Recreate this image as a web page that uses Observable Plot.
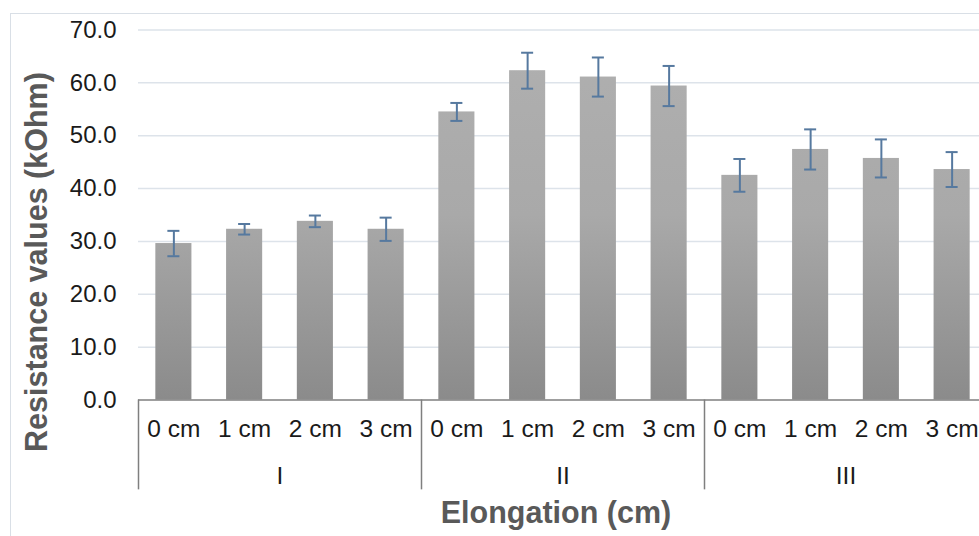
<!DOCTYPE html>
<html><head><meta charset="utf-8">
<script src="https://cdn.jsdelivr.net/npm/d3@7"></script>
<script src="https://cdn.jsdelivr.net/npm/@observablehq/plot@0.6"></script>
<style>
body{margin:0;background:#fff;overflow:hidden}
#wrap{position:relative;width:979px;height:536px;overflow:hidden}
#border{position:absolute;left:10px;top:13px;width:1000px;height:600px;border-left:1.5px solid #d9dfe6;border-top:1.5px solid #d9dfe6}
#chart{position:absolute;left:0;top:0}
</style></head><body>
<div id="wrap"><div id="border"></div><div id="chart"></div></div>
<script>
const groups = ["I", "II", "III"];
const elongations = ["0 cm", "1 cm", "2 cm", "3 cm"];
const meansI = [29.6, 32.3, 33.8, 32.3];
const errI = [2.4, 1.0, 1.1, 2.2];
const meansII = [54.5, 62.3, 61.1, 59.4];
const errII = [1.7, 3.4, 3.7, 3.8];
const meansIII = [42.5, 47.4, 45.7, 43.6];
const errIII = [3.1, 3.8, 3.6, 3.3];
const yTicks = [0, 10, 20, 30, 40, 50, 60, 70];

const meanSets = [meansI, meansII, meansIII];
const errSets = [errI, errII, errIII];
const rows = [];
groups.forEach((g, gi) => elongations.forEach((e, ei) => {
  rows.push({group: g, elong: e, i: gi * elongations.length + ei,
    mean: meanSets[gi][ei], err: errSets[gi][ei]});
}));
const groupRows = groups.map((g, gi) => ({group: g, c: gi * 4 + 2}));
const separators = groups.map((g, gi) => gi * 4).concat([groups.length * 4]);

const font = "'Liberation Sans', Arial, sans-serif";
const errColor = "#56799f";
const lineColor = "#7f7f7f";

const chart = Plot.plot({
  width: 979,
  height: 536,
  marginLeft: 138,
  marginRight: 0,
  marginTop: 29.5,
  marginBottom: 136.5,
  style: {fontFamily: font, fontSize: "24px", color: "#1a1a1a", background: "transparent", overflow: "visible"},
  x: {type: "linear", domain: [0, 12], range: [138, 987], axis: null},
  y: {domain: [0, 70], range: [399.5, 29.5], axis: null},
  marks: [
    Plot.ruleY(yTicks.filter(d => d > 0), {stroke: "#dde3ea", strokeWidth: 1.5}),
    Plot.rectY(rows, {x1: d => d.i + 0.245, x2: d => d.i + 0.755, y1: 0, y2: "mean", fill: "url(#barGrad)"}),
    Plot.ruleX(rows, {x: d => d.i + 0.5, y1: d => d.mean - d.err, y2: d => d.mean + d.err, stroke: errColor, strokeWidth: 2}),
    Plot.ruleY(rows, {x1: d => d.i + 0.415, x2: d => d.i + 0.585, y: d => d.mean + d.err, stroke: errColor, strokeWidth: 2}),
    Plot.ruleY(rows, {x1: d => d.i + 0.415, x2: d => d.i + 0.585, y: d => d.mean - d.err, stroke: errColor, strokeWidth: 2}),
    Plot.ruleY([0], {stroke: lineColor, strokeWidth: 1.5}),
    Plot.ruleX(separators, {x: d => d, y1: 0, y2: -17, stroke: lineColor, strokeWidth: 1.5}),
    Plot.axisY({ticks: yTicks, tickFormat: d => d.toFixed(1), tickSize: 0, tickPadding: 22, fontSize: 24, label: null}),
    Plot.text(rows, {x: d => d.i + 0.5, y: 0, dy: 29.5, text: "elong", fontSize: 24.5, fill: "#1a1a1a"}),
    Plot.text(groupRows, {x: "c", y: 0, dy: 76.5, text: "group", fontSize: 24.5, fill: "#1a1a1a"}),
    Plot.text(["Elongation (cm)"], {x: 6, y: 0, dy: 113.5, dx: -7, text: d => d, fontSize: 30.5, fontWeight: "bold", fill: "#595959"}),
    Plot.text(["Resistance values (kOhm)"], {x: 0, y: 26.1, dx: -101, rotate: -90, text: d => d, fontSize: 30.5, fontWeight: "bold", fill: "#595959"})
  ]
});

const defs = d3.select(chart).insert("defs", ":first-child");
const grad = defs.append("linearGradient").attr("id", "barGrad")
  .attr("gradientUnits", "userSpaceOnUse").attr("x1", 0).attr("x2", 0).attr("y1", 29.5).attr("y2", 399.5);
grad.append("stop").attr("offset", "0%").attr("stop-color", "#b0b0b0");
grad.append("stop").attr("offset", "50%").attr("stop-color", "#a9a9a9");
grad.append("stop").attr("offset", "100%").attr("stop-color", "#8b8b8b");

document.getElementById("chart").appendChild(chart);
</script>
</body></html>
